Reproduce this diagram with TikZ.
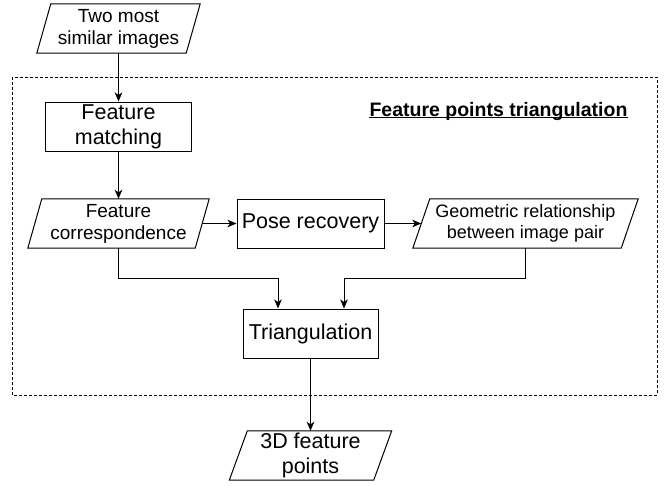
\documentclass[tikz,border=0pt]{standalone}
\usepackage{fontspec}
\setmainfont{Liberation Sans}
\usetikzlibrary{arrows.meta}
\tikzset{
  ln/.style={line width=1pt, draw=black},
  box/.style={ln, draw, inner sep=0pt, align=center, minimum height=49pt},
  paranode/.style={inner sep=0pt, align=center, minimum height=49pt},
  arr/.style={ln, -{Stealth[length=9pt,width=7.5pt,inset=2.5pt]}},
  big/.style={font=\fontsize{21.5}{25}\selectfont},
  mid/.style={font=\fontsize{19}{22}\selectfont},
  small/.style={font=\fontsize{18}{21.5}\selectfont},
  group/.style={line width=1pt, dash pattern=on 3pt off 2pt},
}
\newcommand\drawpara[2]{\draw[ln] ([xshift=#2]#1.north west) -- ([xshift=#2]#1.north east) -- ([xshift=-#2]#1.south east) -- ([xshift=-#2]#1.south west) -- cycle;}
\begin{document}
\begin{tikzpicture}[x=1pt,y=-1pt]
\useasboundingbox (0,0) rectangle (666,485);
% group frame
\draw[group] (12,77) rectangle (657,395);
\node[font=\bfseries\fontsize{19.5}{22}\selectfont, inner sep=0pt, anchor=base] (title) at (498.5,116) {Feature points triangulation};
\draw[line width=1.2pt] ([yshift=-1.5pt]title.base west) -- ([yshift=-1.5pt]title.base east);
% nodes
\node[paranode, mid, minimum width=149pt] (n1) at (118.5,28.5) {Two most\\similar images};
\drawpara{n1}{7pt}
\node[box, big, minimum width=146pt] (n2) at (118.5,126.5) {Feature\\matching};
\node[paranode, mid, minimum width=167pt] (n3) at (118.5,223.5) {Feature\\correspondence};
\drawpara{n3}{7pt}
\node[box, big, minimum width=147pt] (n4) at (310.5,223.5) {Pose recovery};
\node[paranode, small, minimum width=208pt] (n5) at (525.5,223.5) {Geometric relationship\\between image pair};
\drawpara{n5}{8.5pt}
\node[box, big, minimum width=135pt] (n6) at (310.5,333.5) {Triangulation};
\node[paranode, big, minimum width=144pt] (n7) at (310.5,455.5) {3D feature\\points};
\drawpara{n7}{9pt}
% junctions
\coordinate (j1) at (278,278);
\coordinate (j2) at (344,278);
% connectors
\draw[arr] (n1) -- (n2);
\draw[arr] (n2) -- (n3);
\draw[arr] (n3) -- (n4);
\draw[arr] (n4) -- (n5.west);
\draw[arr] (n3.south) |- (j1) -- (j1 |- n6.north);
\draw[arr] (n5.south) |- (j2) -- (j2 |- n6.north);
\draw[arr] (n6) -- (n7);
\end{tikzpicture}
\end{document}
